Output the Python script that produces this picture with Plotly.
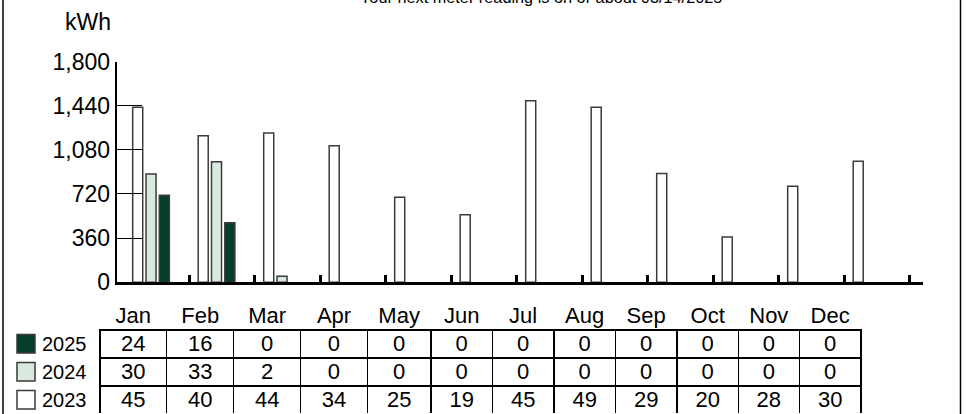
import plotly.graph_objects as go

W, H = 968, 414

months = ["Jan", "Feb", "Mar", "Apr", "May", "Jun", "Jul", "Aug", "Sep", "Oct", "Nov", "Dec"]
years = ["2025", "2024", "2023"]

# monthly kWh (bars)
kwh_2023 = [1427, 1195, 1217, 1114, 693, 551, 1481, 1427, 886, 369, 783, 987]
kwh_2024 = [883, 983, 49, 0, 0, 0, 0, 0, 0, 0, 0, 0]
kwh_2025 = [709, 486, 0, 0, 0, 0, 0, 0, 0, 0, 0, 0]

# table values
tab_2025 = [24, 16, 0, 0, 0, 0, 0, 0, 0, 0, 0, 0]
tab_2024 = [30, 33, 2, 0, 0, 0, 0, 0, 0, 0, 0, 0]
tab_2023 = [45, 40, 44, 34, 25, 19, 45, 49, 29, 20, 28, 30]

yticks = [0, 360, 720, 1080, 1440, 1800]
title_text = "Your next meter reading is on or about 03/14/2025"

colors = {"2025": "#053f2a", "2024": "#d9e9de", "2023": "#ffffff"}
edge = "#3a3a3a"
sans = "Liberation Sans, Arial, sans-serif"
clear = "rgba(0,0,0,0)"


def px(x):
    return x / W


def py(y):
    return (H - y) / H


xpos = list(range(len(months)))
colw = [66.7, 67, 67, 66.6, 63.7, 61.3, 61.7, 61.3, 61.7, 61.3, 61, 61.7]
cell_vals = [[a, b, c] for a, b, c in zip(tab_2025, tab_2024, tab_2023)]

fig = go.Figure()
for name, vals in [("2023", kwh_2023), ("2024", kwh_2024), ("2025", kwh_2025)]:
    fig.add_trace(go.Bar(
        x=xpos, y=[v if v > 0 else None for v in vals], name=name,
        marker=dict(color=colors[name], line=dict(color=edge, width=1.5)),
        showlegend=False, xaxis="x", yaxis="y",
    ))

# table grid (borders only)
fig.add_trace(go.Table(
    domain=dict(x=[px(100), px(861)], y=[0, py(302)]),
    columnwidth=colw,
    header=dict(values=[""] * len(months), height=28,
                line=dict(width=0, color=clear), fill=dict(color=clear)),
    cells=dict(values=[["", "", ""] for _ in months], height=28,
               line=dict(width=1.5, color="black"), fill=dict(color="white")),
))
# table text (months + values), vertically centred in the grid
fig.add_trace(go.Table(
    domain=dict(x=[px(100), px(861)], y=[0, py(298)]),
    columnwidth=colw,
    header=dict(
        values=months, height=28, align="center",
        line=dict(width=0, color=clear), fill=dict(color=clear),
        font=dict(family=sans, size=22, color="black"),
    ),
    cells=dict(
        values=cell_vals, height=28, align="center",
        line=dict(width=0, color=clear), fill=dict(color=clear),
        font=dict(family=sans, size=22, color="black"),
    ),
))

shapes = []
annotations = []
# outer frame sides
for xx in (3, 960.5):
    shapes.append(dict(type="line", xref="paper", yref="paper", x0=px(xx), x1=px(xx),
                       y0=0, y1=1, line=dict(color="black", width=1.5)))
# legend squares + labels
row_tops = [334.5, 362.5, 390.5]
for yr, top in zip(years, row_tops):
    shapes.append(dict(type="rect", xref="paper", yref="paper",
                       x0=px(17), x1=px(35), y0=py(top + 18.5), y1=py(top),
                       fillcolor=colors[yr], line=dict(color=edge, width=1.5)))
    annotations.append(dict(text=yr, xref="paper", yref="paper", x=px(40), y=py(top + 9.5),
                            xanchor="left", yanchor="middle", showarrow=False,
                            font=dict(family=sans, size=20, color="black")))

annotations.append(dict(text="kWh", xref="paper", yref="paper", x=px(88), y=py(22),
                        xanchor="center", yanchor="middle", showarrow=False,
                        font=dict(family=sans, size=23, color="black")))
annotations.append(dict(text=title_text, xref="paper", yref="paper", x=px(541), y=py(8),
                        xanchor="center", yanchor="bottom", showarrow=False,
                        font=dict(family=sans, size=16.3, color="black")))

fig.update_layout(
    width=W, height=H,
    margin=dict(l=0, r=0, t=0, b=0, pad=0, autoexpand=False),
    paper_bgcolor="white", plot_bgcolor="white",
    barmode="group", bargap=0.39, bargroupgap=0.246,
    xaxis=dict(
        domain=[px(116.7), px(923)], range=[-0.524, 11.786], automargin=False,
        showgrid=False, zeroline=False, showline=True, linecolor="black", linewidth=2.5,
        tickmode="array", tickvals=[i + 0.585 for i in xpos], ticks="inside",
        ticklen=8, tickwidth=3, tickcolor="black", showticklabels=False, fixedrange=True,
    ),
    yaxis=dict(
        domain=[py(282.3), py(61.5)], range=[0, 1800], automargin=False,
        showgrid=False, zeroline=False, showline=True, linecolor="black", linewidth=2,
        tickmode="array", tickvals=yticks, tickformat=",", ticks="inside",
        ticklen=25, tickwidth=1.2, tickcolor="black", ticklabelstandoff=0,
        tickfont=dict(family=sans, size=23, color="black"), fixedrange=True,
    ),
    shapes=shapes,
    annotations=annotations,
)

fig.write_html(
    "out.html",
    config={"displayModeBar": False, "responsive": False},
    post_script="document.body.style.margin='0';document.body.style.overflow='hidden';"
                "document.documentElement.style.overflow='hidden';",
)
